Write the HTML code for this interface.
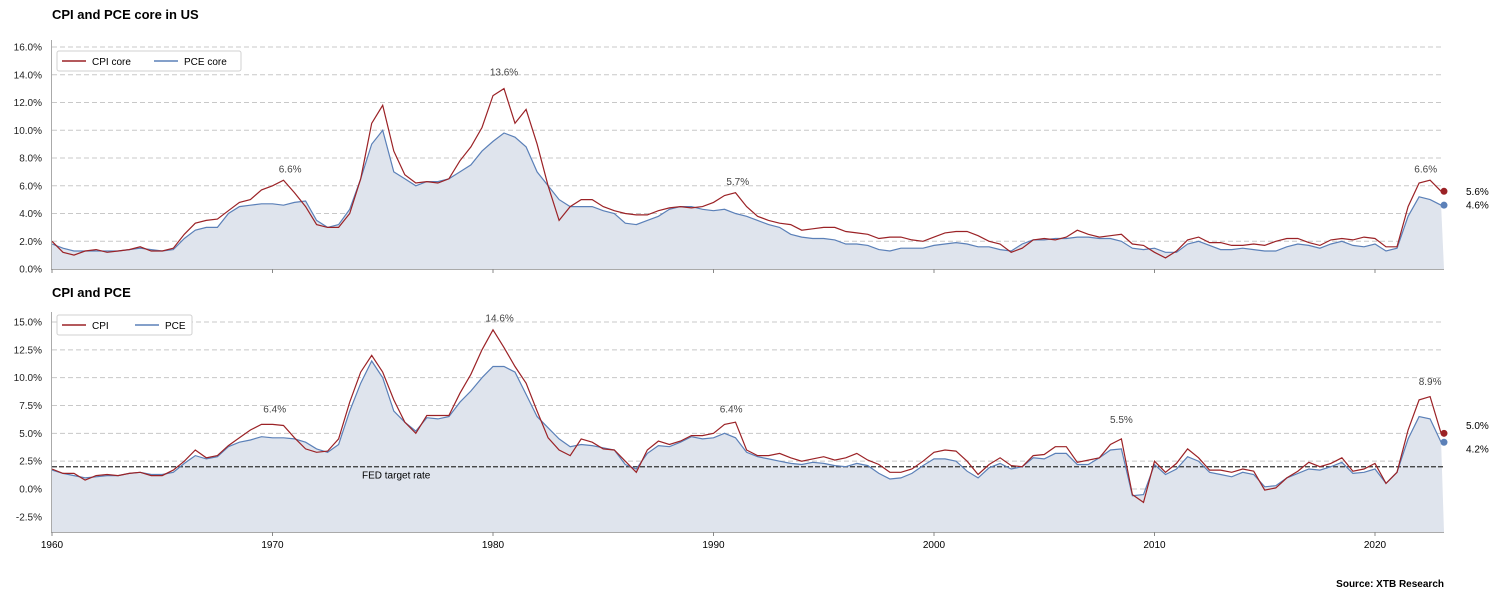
<!DOCTYPE html>
<html><head><meta charset="utf-8"><style>
body{margin:0;background:#fff;width:1501px;height:599px;overflow:hidden;font-family:"Liberation Sans",sans-serif}
svg{display:block}
</style></head><body>
<svg id="c" width="1501" height="599" xmlns="http://www.w3.org/2000/svg" font-family="Liberation Sans, sans-serif"></svg>
<script>
// semi-annual observations starting 1960.0
const cpiCore=[2.0,1.2,1.0,1.3,1.4,1.2,1.3,1.4,1.6,1.3,1.3,1.5,2.5,3.3,3.5,3.6,4.2,4.8,5.0,5.7,6.0,6.4,5.5,4.5,3.2,3.0,3.0,4.0,6.5,10.5,11.8,8.5,6.8,6.2,6.3,6.2,6.5,7.8,8.8,10.2,12.5,13.0,10.5,11.5,9.0,6.0,3.5,4.5,5.0,5.0,4.5,4.2,4.0,3.9,3.9,4.2,4.4,4.5,4.4,4.5,4.8,5.3,5.5,4.5,3.8,3.5,3.3,3.2,2.8,2.9,3.0,3.0,2.7,2.6,2.5,2.2,2.3,2.3,2.1,2.0,2.3,2.6,2.7,2.7,2.4,2.0,1.8,1.2,1.5,2.1,2.2,2.1,2.3,2.8,2.5,2.3,2.4,2.5,1.8,1.7,1.2,0.8,1.3,2.1,2.3,1.9,1.9,1.7,1.7,1.8,1.7,2.0,2.2,2.2,1.9,1.7,2.1,2.2,2.1,2.3,2.2,1.6,1.6,4.5,6.2,6.4,5.6];
const pceCore=[1.8,1.5,1.3,1.3,1.3,1.3,1.3,1.4,1.5,1.4,1.3,1.4,2.2,2.8,3.0,3.0,4.0,4.5,4.6,4.7,4.7,4.6,4.8,4.9,3.5,3.0,3.2,4.3,6.5,9.0,10.0,7.0,6.5,6.0,6.3,6.3,6.5,7.0,7.5,8.5,9.2,9.8,9.5,8.8,7.0,6.0,5.0,4.5,4.5,4.5,4.2,4.0,3.3,3.2,3.5,3.8,4.3,4.5,4.5,4.3,4.2,4.3,4.0,3.8,3.5,3.2,3.0,2.5,2.3,2.2,2.2,2.1,1.8,1.8,1.7,1.4,1.3,1.5,1.5,1.5,1.7,1.8,1.9,1.8,1.6,1.6,1.4,1.3,1.8,2.1,2.1,2.2,2.2,2.3,2.3,2.2,2.2,2.0,1.5,1.4,1.5,1.2,1.2,1.8,2.0,1.7,1.4,1.4,1.5,1.4,1.3,1.3,1.6,1.8,1.7,1.5,1.8,2.0,1.7,1.6,1.8,1.3,1.5,3.8,5.2,5.0,4.6];
const cpi=[1.8,1.4,1.4,0.8,1.2,1.3,1.2,1.4,1.5,1.2,1.2,1.7,2.5,3.5,2.8,3.0,3.9,4.6,5.3,5.8,5.8,5.7,4.6,3.6,3.3,3.4,4.5,7.8,10.5,12.0,10.5,8.0,6.0,5.0,6.6,6.6,6.6,8.6,10.3,12.5,14.3,12.7,11.0,9.5,7.0,4.6,3.5,3.0,4.5,4.2,3.6,3.5,2.5,1.5,3.5,4.3,4.0,4.3,4.8,4.8,5.0,5.8,6.0,3.5,3.0,3.0,3.2,2.8,2.5,2.7,2.9,2.6,2.8,3.2,2.6,2.2,1.5,1.5,1.8,2.5,3.3,3.5,3.4,2.5,1.3,2.2,2.8,2.1,2.0,3.0,3.1,3.8,3.8,2.4,2.6,2.8,4.0,4.5,-0.5,-1.2,2.5,1.5,2.3,3.6,2.8,1.7,1.7,1.5,1.8,1.6,-0.1,0.1,1.0,1.6,2.4,2.0,2.3,2.8,1.6,1.8,2.3,0.5,1.5,5.3,8.0,8.3,5.0];
const pce=[1.7,1.4,1.2,1.0,1.1,1.2,1.2,1.4,1.5,1.3,1.3,1.5,2.3,3.0,2.7,2.9,3.8,4.2,4.4,4.7,4.6,4.6,4.5,4.2,3.6,3.3,4.0,7.0,9.5,11.5,10.0,7.0,6.0,5.2,6.4,6.3,6.5,7.8,8.8,10.0,11.0,11.0,10.5,8.5,6.5,5.5,4.5,3.8,4.0,3.9,3.7,3.5,2.2,1.8,3.2,3.9,3.8,4.2,4.7,4.5,4.6,5.0,4.6,3.3,2.9,2.7,2.5,2.3,2.2,2.4,2.3,2.1,2.0,2.3,2.1,1.4,0.9,1.0,1.4,2.1,2.7,2.7,2.5,1.6,1.0,1.9,2.3,1.8,2.0,2.8,2.7,3.2,3.2,2.2,2.2,2.8,3.5,3.6,-0.6,-0.5,2.2,1.3,1.8,2.9,2.5,1.5,1.3,1.1,1.5,1.3,0.2,0.3,1.0,1.4,1.8,1.7,2.0,2.4,1.4,1.5,1.8,0.5,1.5,4.5,6.5,6.3,4.2];
const topTicks=[0,2,4,6,8,10,12,14,16];
const botTicks=[-2.5,0,2.5,5,7.5,10,12.5,15];
const yearTicks=[1960,1970,1980,1990,2000,2010,2020];
const topNotes=[[1970.8,6.6,'6.6%'],[1980.5,13.6,'13.6%'],[1991.1,5.7,'5.7%'],[2022.3,6.6,'6.6%']];
const botNotes=[[1970.1,6.4,'6.4%'],[1980.3,14.6,'14.6%'],[1990.8,6.4,'6.4%'],[2008.5,5.5,'5.5%'],[2022.5,8.9,'8.9%']];

const NS='http://www.w3.org/2000/svg';
const svg=document.getElementById('c');
const X0=52,X1=1444,T0=1960,T1=2023.13;
const x=t=>X0+(t-T0)/(T1-T0)*(X1-X0);
const tOf=i=>Math.min(T0+i*0.5,T1);
const yTop=v=>269-v*(222/16);
const yBot=v=>489-v*(167/15);
const CR='#9b2226',PB='#5b80b8';
function el(tag,attrs,parent){const e=document.createElementNS(NS,tag);for(const k in attrs)e.setAttribute(k,attrs[k]);(parent||svg).appendChild(e);return e;}
function txt(s,attrs,parent){const e=el('text',attrs,parent);e.textContent=s;return e;}
function path(arr,y){return arr.map((v,i)=>(i?'L':'M')+x(tOf(i)).toFixed(1)+' '+y(v).toFixed(1)).join('');}

function panel(cfg){
  const g=el('g',{});
  
  
  const t=txt(cfg.title,{x:52,y:cfg.titleY,'font-size':13,'font-weight':'bold'},g);
  
  
  cfg.ticks.forEach(v=>{
    const yy=cfg.y(v);
    const gl=el('line',{x1:X0,x2:X1,y1:yy,y2:yy,stroke:'#c8c8c8','stroke-dasharray':'5,3'},g);
    
    
    const lb=txt(cfg.fmt(v),{x:42,y:yy+3.5,'font-size':10,'text-anchor':'end',fill:'#222'},g);
    
    
  });
  const a=cfg.pce;
  const fp=el('path',{d:path(a,cfg.y)+'L'+X1+' '+cfg.base+'L'+X0+' '+cfg.base+'Z',fill:'#dfe4ed'},g);
  
  
  if(cfg.fed){
    const fl=el('line',{x1:X0,x2:X1,y1:cfg.y(2),y2:cfg.y(2),stroke:'#333','stroke-dasharray':'5,2','stroke-width':1.2},g);
    
    
    const ft=txt('FED target rate',{x:362,y:cfg.y(2)+12,'font-size':10},g);
    
    
  }
  const lp=el('path',{d:path(a,cfg.y),fill:'none',stroke:PB,'stroke-width':1.2},g);
  
  
  const lc=el('path',{d:path(cfg.cpi,cfg.y),fill:'none',stroke:CR,'stroke-width':1.2},g);
  
  
  [[cfg.cpi,CR,cfg.off1],[a,PB,cfg.off2]].forEach(([s,c,off])=>{
    const v=s[s.length-1];
    const d=el('circle',{cx:X1,cy:cfg.y(v),r:3.5,fill:c},g);
    
    
    const lt=txt(v.toFixed(1)+'%',{x:1466,y:cfg.y(v)+3.5+off,'font-size':10},g);
    
    
  });
  cfg.notes.forEach(n=>{
    const nt=txt(n[2],{x:x(n[0]),y:cfg.y(n[1])-5,'font-size':10,'text-anchor':'middle',fill:'#444'},g);
    
    
  });
  el('line',{x1:51.5,x2:51.5,y1:cfg.top,y2:cfg.base,stroke:'#aaa'},g);
  el('line',{x1:51,x2:X1,y1:cfg.base+0.5,y2:cfg.base+0.5,stroke:'#aaa'},g);
  yearTicks.forEach(yr=>{
    el('line',{x1:x(yr),x2:x(yr),y1:cfg.base,y2:cfg.base+4,stroke:'#888'},g);
    if(cfg.yearLabels){
      const yl=txt(String(yr),{x:x(yr),y:cfg.base+16,'font-size':10,'text-anchor':'middle'},g);
      
      
    }
  });
  const lg=el('g',{},g);
  
  
  el('rect',{x:57,y:cfg.legY,width:cfg.legW,height:20,rx:2,fill:'#fff',stroke:'#d0d0d0'},lg);
  el('line',{x1:62,x2:86,y1:cfg.legY+10,y2:cfg.legY+10,stroke:CR,'stroke-width':1.5},lg);
  txt(cfg.l1,{x:92,y:cfg.legY+14,'font-size':10},lg);
  el('line',{x1:cfg.l2x,x2:cfg.l2x+24,y1:cfg.legY+10,y2:cfg.legY+10,stroke:PB,'stroke-width':1.5},lg);
  txt(cfg.l2,{x:cfg.l2x+30,y:cfg.legY+14,'font-size':10},lg);
}
panel({name:'core-panel',title:'CPI and PCE core in US',titleY:19,ticks:topTicks,y:yTop,fmt:v=>v.toFixed(1)+'%',
  cpi:cpiCore,pce:pceCore,base:269,top:40,notes:topNotes,yearLabels:false,legY:51,legW:184,l1:'CPI core',l2:'PCE core',l2x:154,off1:0,off2:0});
panel({name:'headline-panel',title:'CPI and PCE',titleY:297,ticks:botTicks,y:yBot,fmt:v=>v.toFixed(1)+'%',
  cpi:cpi,pce:pce,base:532,top:312,notes:botNotes,yearLabels:true,legY:315,legW:135,l1:'CPI',l2:'PCE',l2x:135,fed:true,off1:-8,off2:7});
const s=txt('Source: XTB Research',{x:1444,y:587,'font-size':10,'font-weight':'bold','text-anchor':'end'});


</script>
</body></html>
